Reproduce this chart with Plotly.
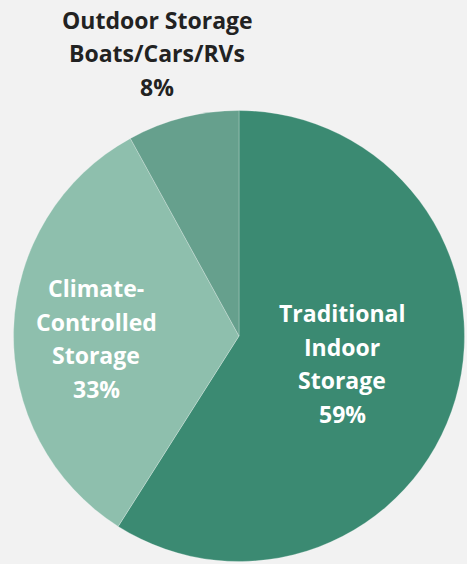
import plotly.graph_objects as go

categories = ["Traditional Indoor Storage", "Climate-Controlled Storage", "Outdoor Storage Boats/Cars/RVs"]
label_lines = [["Traditional", "Indoor", "Storage"], ["Climate-", "Controlled", "Storage"], ["Outdoor Storage", "Boats/Cars/RVs"]]
shares = [59, 33, 8]
colors = ["#3b8a72", "#8ebfad", "#66a08d"]

W, H = 467, 564
cx, cy, r = 239, 336, 225.5

fig = go.Figure(go.Pie(
    labels=categories,
    values=shares,
    sort=False,
    direction="clockwise",
    rotation=0,
    marker=dict(colors=colors, line=dict(color="rgba(255,255,255,0.25)", width=1)),
    textinfo="none",
    hoverinfo="label+percent",
    showlegend=False,
    domain=dict(x=[(cx - r) / W, (cx + r) / W], y=[1 - (cy + r) / H, 1 - (cy - r) / H]),
))

# label placement: (centre x, first-line y, colour) in pixels
label_pos = [(342, 313, "white"), (96, 288, "white"), (157, 20, "#222222")]
line_gap = 33.5
for lines, v, (x, y0, c) in zip(label_lines, shares, label_pos):
    for i, t in enumerate(lines + [f"{v}%"]):
        fig.add_annotation(
            x=x / W, y=1 - (y0 + i * line_gap) / H, xref="paper", yref="paper",
            text=t, showarrow=False, align="center",
            xanchor="center", yanchor="middle",
            font=dict(family="Open Sans", size=23, color=c, weight="bold"),
        )

fig.update_layout(
    width=W, height=H,
    margin=dict(l=0, r=0, t=0, b=0),
    paper_bgcolor="#f2f2f2",
    plot_bgcolor="#f2f2f2",
)

fig.write_html("out.html", config={"displayModeBar": False},
               post_script="document.body.style.margin='0';document.body.style.background='#f2f2f2';")
